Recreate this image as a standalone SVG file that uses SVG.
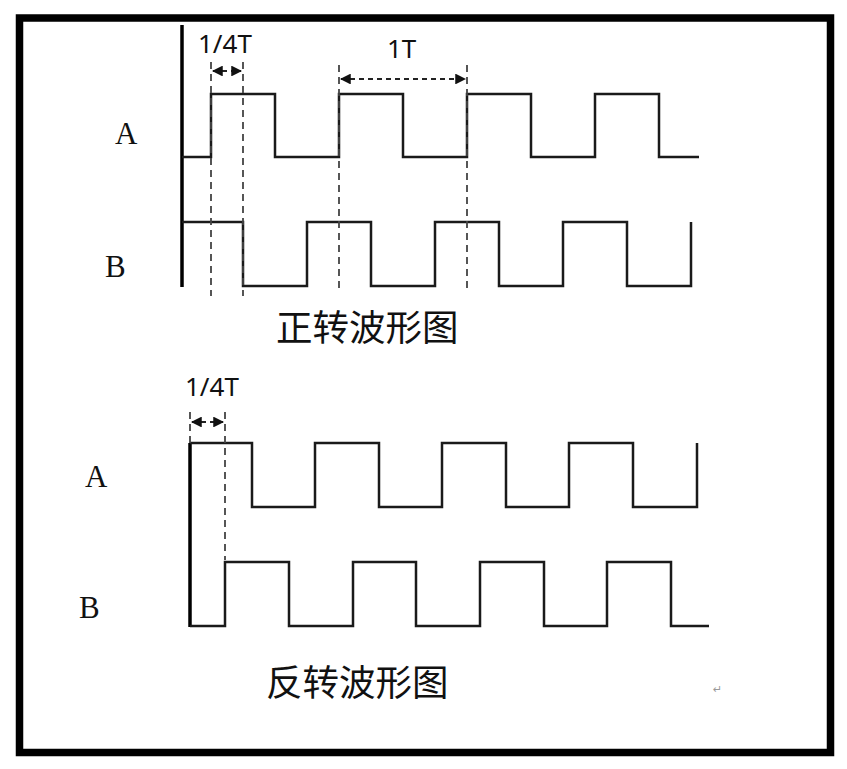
<svg xmlns="http://www.w3.org/2000/svg" width="847" height="769" viewBox="0 0 847 769">
<defs>
<style>
.wave{fill:none;stroke:#1a1a1a;stroke-width:2.5;stroke-linejoin:miter}
.axis{fill:none;stroke:#000;stroke-width:3.5}
.dash{fill:none;stroke:#444;stroke-width:1.8;stroke-dasharray:7 5}
.dim{fill:none;stroke:#222;stroke-width:1.8;stroke-dasharray:5 4;marker-start:url(#ah);marker-end:url(#ah)}
.lbl{font-family:"Liberation Serif","Times New Roman",serif;font-size:31px;fill:#111}
.num{font-family:"Noto Sans","Open Sans",sans-serif;font-size:26px;fill:#111}
.title{font-family:"Noto Sans CJK SC","Noto Sans",sans-serif;font-size:36.5px;fill:#111}
</style>
<marker id="ah" viewBox="0 0 10 10" refX="9" refY="5" markerWidth="6" markerHeight="6" orient="auto-start-reverse" markerUnits="strokeWidth">
<path d="M0,0 L10,5 L0,10 z" fill="#111"/>
</marker>
</defs>
<rect x="0" y="0" width="847" height="769" fill="#fff"/>
<rect id="frame" x="19.5" y="18" width="811" height="734.5" fill="none" stroke="#000" stroke-width="7.5"/>

<g id="forward">
<g id="fwd-axis"><line class="axis" x1="182" y1="25" x2="182" y2="287"/></g>
<g id="fwd-A">
<text class="lbl" x="115" y="144">A</text>
<path class="wave" d="M182,157 H211 V94 H275 V157 H339 V94 H403 V157 H467 V94 H531 V157 H595 V94 H659 V157 H699"/>
</g>
<g id="fwd-B">
<text class="lbl" x="105" y="277">B</text>
<path class="wave" d="M182,222 H243 V286 H307 V222 H371 V286 H435 V222 H499 V286 H563 V222 H627 V286 H691 V222"/>
</g>
<g id="fwd-dims">
<line class="dash" x1="211" y1="62" x2="211" y2="296"/>
<line class="dash" x1="243" y1="62" x2="243" y2="296"/>
<line class="dash" x1="339" y1="65" x2="339" y2="291"/>
<line class="dash" x1="467" y1="65" x2="467" y2="291"/>
<line class="dim" x1="213" y1="71" x2="241" y2="71"/>
<line class="dim" x1="341" y1="79" x2="465" y2="79"/>
<text class="num" x="198" y="53">1/4T</text>
<text class="num" x="387" y="58">1T</text>
</g>
<text class="title" x="276" y="341">正转波形图</text>
</g>

<g id="reverse">
<g id="rev-axis"><line class="axis" x1="190" y1="443" x2="190" y2="627"/></g>
<g id="rev-A">
<text class="lbl" x="85" y="487">A</text>
<path class="wave" d="M190,443 H252 V507 H315 V443 H379 V507 H442 V443 H506 V507 H569 V443 H633 V507 H697 V443"/>
</g>
<g id="rev-B">
<text class="lbl" x="79" y="618">B</text>
<path class="wave" d="M190,626 H225 V562 H289 V626 H353 V562 H416 V626 H480 V562 H544 V626 H607 V562 H671 V626 H709"/>
</g>
<g id="rev-dims">
<line class="dash" x1="190" y1="412" x2="190" y2="443"/>
<line class="dash" x1="225" y1="412" x2="225" y2="560"/>
<line class="dim" x1="192" y1="422" x2="223" y2="422"/>
<text class="num" x="185" y="396">1/4T</text>
</g>
<text class="title" x="266" y="696">反转波形图</text>
</g>
<text x="713" y="693" font-family="DejaVu Sans,sans-serif" font-size="11" fill="#999">↵</text>
</svg>
